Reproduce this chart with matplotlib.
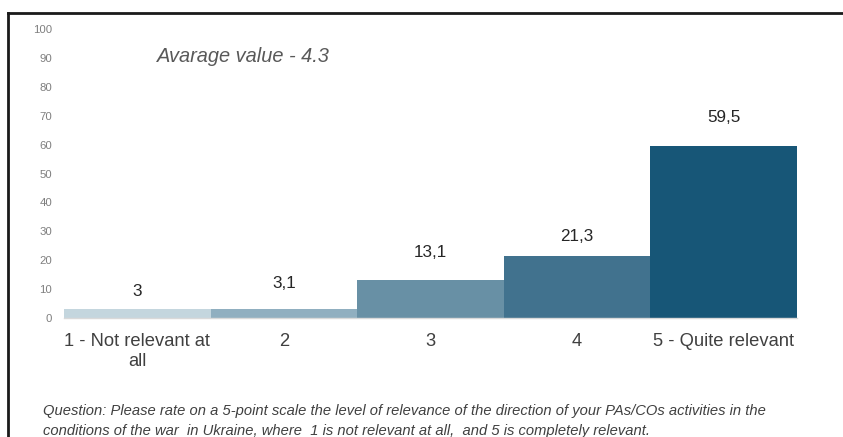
import matplotlib
matplotlib.use("Agg")
import matplotlib.pyplot as plt
from matplotlib.lines import Line2D

plt.rcParams['font.family'] = ['Liberation Sans', 'DejaVu Sans']

categories = ["1 - Not relevant at\nall", "2", "3", "4", "5 - Quite relevant"]
values = [3, 3.1, 13.1, 21.3, 59.5]
value_labels = ["3", "3,1", "13,1", "21,3", "59,5"]
colors = ["#c4d6de", "#90afc0", "#6890a5", "#41728e", "#175677"]
y_ticks = [0, 10, 20, 30, 40, 50, 60, 70, 80, 90, 100]
avg_text = "Avarage value - 4.3"
question = ("Question: Please rate on a 5-point scale the level of relevance of the direction of your PAs/COs activities in the\n"
            "conditions of the war  in Ukraine, where  1 is not relevant at all,  and 5 is completely relevant.")

# label gap above bar top (pixels), as placed in the original
label_gap_px = [18, 26, 27.5, 20, 28.5]

W, H = 843, 437
fig = plt.figure(figsize=(W / 100, H / 100), dpi=100)
ax = fig.add_axes([64 / W, 1 - 318 / H, (797 - 64) / W, (318 - 29) / H])

x = list(range(len(values)))
bars = ax.bar(x, values, width=1.0, color=colors, edgecolor="none")
for xi, v, lab, g in zip(x, values, value_labels, label_gap_px):
    ax.annotate(lab, (xi, v), xytext=(0, g * 0.72), textcoords="offset points",
                ha="center", va="center", fontsize=12.3, color="#262626")

ax.set_xlim(-0.5, 4.5)
ax.set_ylim(0, 100)
ax.set_yticks(y_ticks)
ax.set_yticklabels([str(t) for t in y_ticks], fontsize=8.2, color="#7f7f7f")
ax.set_xticks(x)
ax.set_xticklabels(categories, fontsize=13.2, color="#404040", linespacing=1.3)
ax.tick_params(axis="both", length=0)
ax.tick_params(axis="y", pad=8.5)
ax.tick_params(axis="x", pad=10.5)
for s in ["top", "right", "left"]:
    ax.spines[s].set_visible(False)
ax.spines["bottom"].set_color("#d9d9d9")
ax.spines["bottom"].set_linewidth(1.0)

fig.text(157 / W, 1 - 57 / H, avg_text, fontsize=14.4, style="italic",
         color="#595959", ha="left", va="center")
fig.text(43 / W, 1 - 404 / H, question, fontsize=10.6, style="italic",
         color="#404040", ha="left", va="top", linespacing=1.5)

# outer frame lines (top and left)
fig.add_artist(Line2D([8 / W, 1.0], [1 - 13 / H, 1 - 13 / H], color="#1a1a1a", lw=2,
                      transform=fig.transFigure))
fig.add_artist(Line2D([8 / W, 8 / W], [1 - 13 / H, 0], color="#1a1a1a", lw=2,
                      transform=fig.transFigure))

fig.savefig("out.png", dpi=100)
